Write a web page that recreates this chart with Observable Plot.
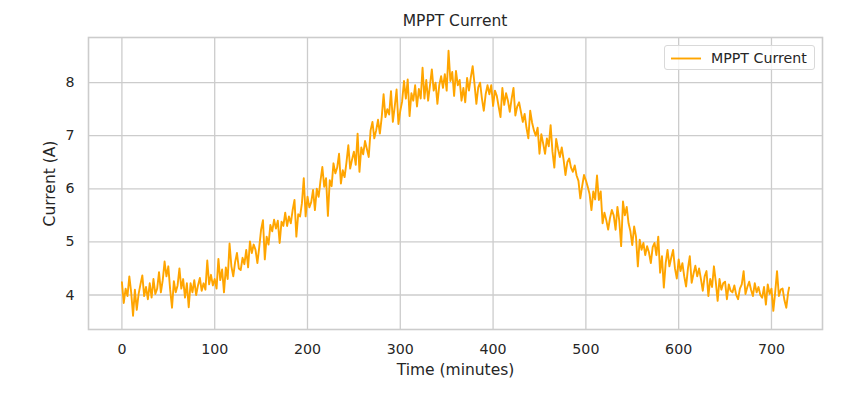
<!DOCTYPE html>
<html>
<head>
<meta charset="utf-8">
<script src="https://cdn.jsdelivr.net/npm/d3@7"></script>
<script src="https://cdn.jsdelivr.net/npm/@observablehq/plot@0.6"></script>
<style>
  body { margin: 0; background: #fff; }
  #wrap { position: relative; width: 854px; height: 397px; font-family: "DejaVu Sans", sans-serif; color: #262626; }
  #title { height: 30px; box-sizing: border-box; padding-top: 12px; padding-left: 88px; width: 822px; text-align: center; font-size: 15.5px; line-height: 18px; }
  #legend { position: absolute; left: 664px; top: 45px; width: 151px; height: 25px; box-sizing: border-box; border: 1px solid #d9d9d9; border-radius: 3px; background: rgba(255,255,255,0.8); font-size: 14.2px; }
  #legend svg { position: absolute; left: 6px; top: 11px; }
  #legend span { position: absolute; left: 46px; top: 3px; line-height: 18px; white-space: nowrap; }
  svg { display: block; }
</style>
</head>
<body>
<div id="wrap">
  <div id="title">MPPT Current</div>
  <div id="chart"></div>
  <div id="legend"><svg width="30" height="3"><line x1="0" x2="30" y1="1.5" y2="1.5" stroke="orange" stroke-width="1.9"/></svg><span>MPPT Current</span></div>
</div>
<script>
const seriesName = "MPPT Current";
const xTicks = [0, 100, 200, 300, 400, 500, 600, 700];
const yTicks = [4, 5, 6, 7, 8];
const minutes = [...d3.range(0, 720, 2), 719];
const current = [
  4.24, 3.85, 4.12, 3.98, 4.35, 4.05, 3.61, 4.10, 3.72, 4.02,
  4.20, 4.37, 3.98, 4.15, 3.92, 4.22, 3.95, 4.30, 4.02, 4.12,
  4.43, 4.05, 4.28, 4.63, 4.35, 4.54, 4.10, 3.76, 4.26, 4.05,
  4.18, 4.50, 4.12, 4.30, 3.95, 4.22, 3.77, 4.22, 4.05, 4.28,
  4.00, 4.18, 4.32, 4.08, 4.22, 4.10, 4.65, 4.20, 4.38, 4.18,
  4.30, 4.12, 4.68, 4.28, 4.48, 4.05, 4.52, 4.30, 4.97, 4.54,
  4.35, 4.62, 4.79, 4.50, 4.47, 4.70, 4.58, 4.85, 4.52, 5.01,
  4.79, 4.95, 4.85, 4.60, 4.90, 5.23, 5.41, 4.67, 5.10, 4.95,
  5.32, 5.20, 5.42, 5.25, 5.40, 4.98, 5.38, 5.30, 5.55, 5.30,
  5.48, 5.35, 5.60, 5.79, 5.10, 5.52, 5.48, 5.73, 6.20, 5.48,
  5.85, 5.65, 5.75, 5.98, 5.60, 6.00, 5.85, 6.15, 6.41, 6.04,
  6.20, 5.49, 6.16, 6.05, 6.48, 6.29, 6.40, 6.66, 6.10, 6.35,
  6.22, 6.50, 6.82, 6.38, 6.55, 6.70, 6.45, 7.04, 6.32, 6.78,
  6.65, 6.90, 6.75, 6.60, 7.10, 7.26, 6.95, 7.10, 7.30, 7.04,
  7.35, 7.78, 7.35, 7.50, 7.40, 7.84, 7.26, 7.55, 7.87, 7.22,
  7.47, 7.65, 8.03, 7.70, 8.06, 7.37, 7.80, 7.66, 7.95, 7.55,
  7.88, 7.70, 8.28, 7.70, 8.05, 7.66, 7.95, 8.25, 7.85, 8.00,
  7.60, 7.95, 8.12, 7.90, 8.16, 7.85, 8.60, 8.03, 8.20, 7.75,
  8.22, 7.95, 8.05, 7.66, 7.90, 7.63, 8.09, 7.85, 8.10, 8.31,
  7.97, 7.60, 7.91, 8.00, 7.70, 7.47, 7.78, 7.95, 7.78, 7.95,
  7.56, 7.85, 7.75, 7.55, 7.35, 7.90, 7.58, 7.80, 7.66, 7.45,
  7.70, 7.90, 7.38, 7.55, 7.63, 7.45, 7.26, 7.41, 7.15, 6.95,
  7.47, 7.25, 7.10, 7.00, 7.15, 6.66, 7.03, 6.85, 6.66, 6.95,
  6.80, 7.20, 6.70, 6.40, 6.94, 6.75, 6.60, 6.78, 6.55, 6.26,
  6.50, 6.57, 6.40, 6.32, 6.44, 6.25, 6.15, 5.82, 6.05, 6.26,
  6.16, 6.04, 5.90, 5.60, 5.95, 5.80, 6.25, 5.79, 5.95, 5.35,
  5.55, 5.41, 5.23, 5.45, 5.60, 5.50, 5.23, 5.66, 5.40, 4.92,
  5.76, 5.50, 5.66, 5.35, 5.20, 4.94, 5.29, 5.10, 4.54, 5.04,
  4.85, 4.98, 4.75, 4.92, 4.80, 4.60, 4.90, 4.98, 4.75, 5.10,
  4.42, 4.73, 4.14, 4.60, 4.85, 4.54, 4.70, 4.85, 4.50, 4.31,
  4.67, 4.45, 4.60, 4.35, 4.16, 4.50, 4.73, 4.23, 4.40, 4.55,
  4.35, 4.50, 4.30, 4.08, 4.35, 4.45, 3.98, 4.30, 4.15, 4.54,
  4.25, 3.89, 4.30, 4.10, 4.22, 4.25, 3.92, 4.20, 4.08, 4.05,
  4.18, 4.00, 3.92, 4.12, 4.20, 4.45, 4.02, 4.15, 4.25, 4.10,
  3.98, 4.22, 4.05, 4.15, 4.00, 3.95, 4.15, 3.82, 4.20, 4.02,
  4.12, 3.70, 4.05, 4.45, 3.98, 4.10, 4.12, 3.90, 3.76, 4.05,
  4.14
];
const data = minutes.map((t, i) => ({t, v: current[i], series: seriesName}));

const chart = Plot.plot({
  width: 854,
  height: 367,
  marginLeft: 88,
  marginRight: 32,
  marginTop: 7,
  marginBottom: 68,
  style: {fontFamily: "DejaVu Sans, sans-serif", color: "#262626", background: "#fff"},
  x: {domain: [-36, 755], ticks: xTicks},
  y: {domain: [3.35, 8.85], ticks: yTicks},
  marks: [
    Plot.gridX(xTicks, {stroke: "#cccccc", strokeOpacity: 1, strokeWidth: 1.3}),
    Plot.gridY(yTicks, {stroke: "#cccccc", strokeOpacity: 1, strokeWidth: 1.3}),
    Plot.frame({stroke: "#cccccc", strokeWidth: 1.6}),
    Plot.line(data, {x: "t", y: "v", stroke: "orange", strokeWidth: 1.9}),
    Plot.axisX(xTicks, {tickSize: 0, tickPadding: 14, fontSize: 14.2, label: null, tickFormat: d => String(d)}),
    Plot.axisY(yTicks, {tickSize: 0, tickPadding: 14, fontSize: 14.2, label: null, tickFormat: d => String(d)}),
    Plot.text(["Time (minutes)"], {frameAnchor: "bottom", dy: 41, lineAnchor: "middle", fontSize: 15.5}),
    Plot.text(["Current (A)"], {frameAnchor: "left", dx: -38, rotate: -90, lineAnchor: "middle", textAnchor: "middle", fontSize: 15.5})
  ]
});
document.getElementById("chart").appendChild(chart);
</script>
</body>
</html>
